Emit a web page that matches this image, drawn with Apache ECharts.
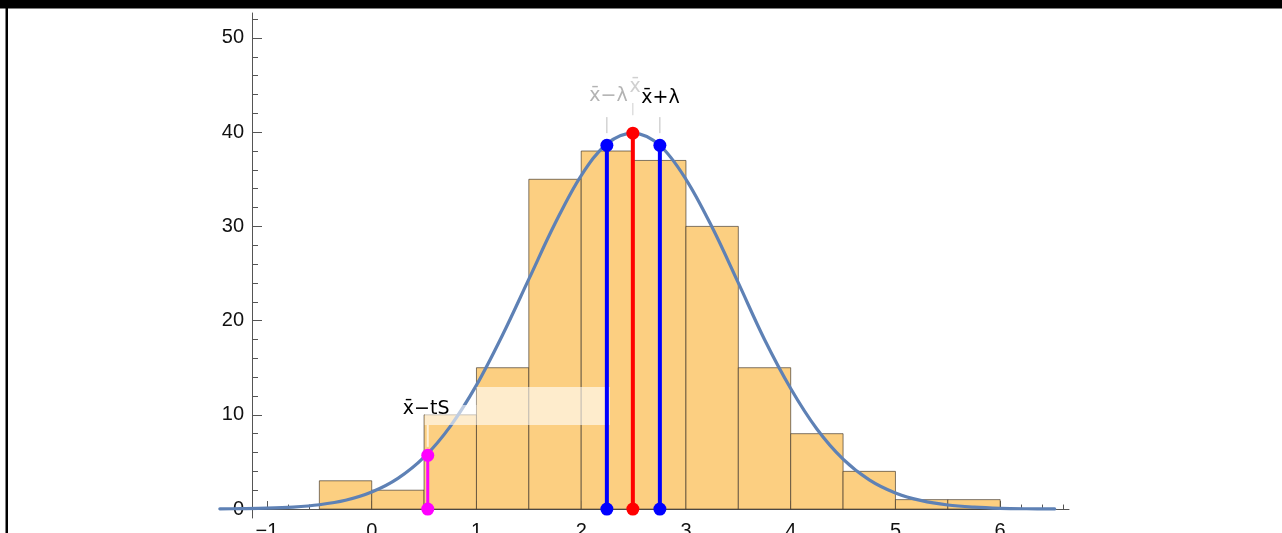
<!DOCTYPE html>
<html>
<head>
<meta charset="utf-8">
<script src="https://cdn.jsdelivr.net/npm/echarts@6/dist/echarts.min.js"></script>
<style>
  html, body { margin: 0; padding: 0; background: #fff; }
  #chart { width: 1282px; height: 533px; }
</style>
</head>
<body>
<div id="chart"></div>
<script>
// Histogram: bin edges (width 0.5) and counts per bin
const binEdges = [-0.5, 0, 0.5, 1, 1.5, 2, 2.5, 3, 3.5, 4, 4.5, 5, 5.5, 6];
const counts   = [3, 2, 10, 15, 35, 38, 37, 30, 15, 8, 4, 1, 1];

// Fitted normal density, scaled to counts
const curveX = [-1.45, -1.25, -1, -0.75, -0.5, -0.25, 0, 0.25, 0.5, 0.75, 1, 1.25, 1.5, 1.75, 2, 2.25,
                2.5, 2.75, 3, 3.25, 3.5, 3.75, 4, 4.25, 4.5, 4.75, 5, 5.25, 5.5, 5.75, 6, 6.25, 6.52];
const curveY = [0.02, 0.04, 0.09, 0.21, 0.46, 0.93, 1.8, 3.25, 5.5, 8.78, 13.15, 18.5, 24.4, 30.3, 35.4, 38.8,
                39.9, 38.6, 35.0, 29.9, 24.0, 18.0, 12.8, 8.5, 5.3, 3.1, 1.71, 0.89, 0.43, 0.2, 0.08, 0.03, 0.01];

// Marked statistics: position on x and height of the density there
const lowerTS  = [0.535, 5.7];   // x̄ − tS
const lowerLam = [2.245, 38.6];  // x̄ − λ
const meanPt   = [2.493, 39.9];  // x̄
const upperLam = [2.751, 38.6];  // x̄ + λ

// Axis tick values
const xTicks = [-1, 0, 1, 2, 3, 4, 5, 6];
const yTicks = [0, 10, 20, 30, 40, 50];

const xMinor = [];
for (let k = -4; k <= 33; k++) { if (k % 5 !== 0) xMinor.push(+(k * 0.2).toFixed(1)); }
const yMinor = [];
for (let k = 1; k <= 26; k++) { if (k % 5 !== 0) yMinor.push(k * 2); }

const axisGray = '#555555';
const barFill = '#fccf81';
const barEdge = 'rgba(60,50,40,0.65)';
const curveColor = '#5e81b5';
const annFont = '19px "DejaVu Sans", sans-serif';

const chart = echarts.init(document.getElementById('chart'), null, { renderer: 'canvas' });

function markerSeries(pt, color, width) {
  return {
    type: 'line',
    data: [[pt[0], 0], [pt[0], pt[1]]],
    symbol: 'circle',
    symbolSize: 13,
    showSymbol: true,
    clip: false,
    lineStyle: { color: color, width: width },
    itemStyle: { color: color },
    z: 5,
    silent: true
  };
}

// Text callouts (data coordinates)
const callouts = [
  { text: 'x\u0304\u2212\u03bb', x: 2.26, y: 43.8, color: '#b3b3b3' },
  { text: 'x\u0304', x: 2.515, y: 44.8, color: '#d0d0d0' },
  { text: 'x\u0304+\u03bb', x: 2.757, y: 43.6, color: '#000000' },
  { text: 'x\u0304\u2212tS', x: 0.52, y: 10.6, color: '#000000' }
];
const leaders = [
  { x: 2.245, y0: 41.6, y1: 39.9, color: '#bdbdbd', w: 1 },
  { x: 2.493, y0: 43.1, y1: 41.8, color: '#cfcfcf', w: 1 },
  { x: 2.751, y0: 41.6, y1: 39.9, color: '#bdbdbd', w: 1 },
  { x: 0.535, y0: 8.92, y1: 6.6, color: 'rgba(255,255,255,0.7)', w: 2 }
];
const labelBoxes = [
  { x0: 0.506, y0: 8.92, x1: 1.0, y1: 11.04 },
  { x0: 1.0, y0: 8.92, x1: 2.273, y1: 12.95 }
];

const option = {
  animation: false,
  backgroundColor: '#ffffff',
  grid: { left: 252, right: 213, top: 13, bottom: 15, containLabel: false, outerBoundsMode: 'none' },
  xAxis: [
    {
      type: 'value', min: -1.143, max: 6.657, position: 'bottom',
      axisLine: { show: true, onZero: true, lineStyle: { color: axisGray, width: 1 } },
      axisTick: { show: true, inside: true, length: 8, customValues: xTicks, lineStyle: { color: axisGray } },
      axisLabel: {
        customValues: xTicks, margin: 3, fontSize: 20, color: '#111',
        fontFamily: '"Liberation Sans", Arial, sans-serif',
        formatter: v => String(v).replace('-', '\u2212')
      },
      splitLine: { show: false }
    },
    {
      type: 'value', min: -1.143, max: 6.657, position: 'bottom',
      axisLine: { show: false, onZero: true },
      axisTick: { show: true, inside: true, length: 4.5, customValues: xMinor, lineStyle: { color: axisGray } },
      axisLabel: { show: false },
      splitLine: { show: false }
    }
  ],
  yAxis: [
    {
      type: 'value', min: -0.95, max: 52.65, position: 'left',
      axisLine: { show: true, onZero: false, lineStyle: { color: axisGray, width: 1 } },
      axisTick: { show: true, inside: true, length: 10, customValues: yTicks, lineStyle: { color: axisGray } },
      axisLabel: {
        customValues: yTicks, margin: 8, fontSize: 20, color: '#111',
        fontFamily: '"Liberation Sans", Arial, sans-serif'
      },
      splitLine: { show: false }
    },
    {
      type: 'value', min: -0.95, max: 52.65, position: 'left',
      axisLine: { show: false, onZero: false },
      axisTick: { show: true, inside: true, length: 6, customValues: yMinor, lineStyle: { color: axisGray } },
      axisLabel: { show: false },
      splitLine: { show: false }
    }
  ],
  graphic: [
    { type: 'rect', shape: { x: 0, y: 0, width: 1282, height: 8.5 }, style: { fill: '#000' }, z: 100 },
    { type: 'rect', shape: { x: 5.5, y: 0, width: 2.5, height: 533 }, style: { fill: '#000' }, z: 100 }
  ],
  series: [
    {
      // histogram bars
      type: 'custom',
      z: 1,
      silent: true,
      data: counts.map((c, i) => [binEdges[i], binEdges[i + 1], c]),
      renderItem: (params, api) => {
        const p0 = api.coord([api.value(0), api.value(2)]);
        const p1 = api.coord([api.value(1), 0]);
        return {
          type: 'rect',
          shape: { x: p0[0], y: p0[1], width: p1[0] - p0[0], height: p1[1] - p0[1] },
          style: { fill: barFill, stroke: barEdge, lineWidth: 1 }
        };
      }
    },
    {
      // density curve, drawn as one smoothed polyline (runs past the left axis)
      type: 'custom',
      z: 2,
      silent: true,
      clip: false,
      data: [[curveX[0], curveY[0]]],
      renderItem: (params, api) => {
        const pts = curveX.map((x, i) => api.coord([x, curveY[i]]));
        return {
          type: 'polyline',
          shape: { points: pts, smooth: 0.35 },
          style: { stroke: curveColor, lineWidth: 3.2, fill: null, lineJoin: 'round', lineCap: 'round' }
        };
      }
    },
    {
      // label backgrounds
      type: 'custom',
      z: 3,
      silent: true,
      data: labelBoxes.map((b, i) => [b.x0, b.y0, i]),
      renderItem: (params, api) => {
        const b = labelBoxes[params.dataIndex];
        const p0 = api.coord([b.x0, b.y1]);
        const p1 = api.coord([b.x1, b.y0]);
        return {
          type: 'rect',
          shape: { x: p0[0], y: p0[1], width: p1[0] - p0[0], height: p1[1] - p0[1] },
          style: { fill: 'rgba(255,255,255,0.6)' }
        };
      }
    },
    {
      // callout leader lines
      type: 'custom',
      z: 3,
      silent: true,
      clip: false,
      data: leaders.map((l, i) => [l.x, l.y0, i]),
      renderItem: (params, api) => {
        const l = leaders[params.dataIndex];
        const a = api.coord([l.x, l.y0]);
        const b = api.coord([l.x, l.y1]);
        return {
          type: 'line',
          shape: { x1: a[0], y1: a[1], x2: b[0], y2: b[1] },
          style: { stroke: l.color, lineWidth: l.w }
        };
      }
    },
    markerSeries(lowerTS, '#ff00ff', 3),
    markerSeries(lowerLam, '#0000ff', 4),
    markerSeries(meanPt, '#ff0000', 4),
    markerSeries(upperLam, '#0000ff', 4),
    {
      // callout texts
      type: 'custom',
      z: 6,
      silent: true,
      clip: false,
      data: callouts.map((c, i) => [c.x, c.y, i]),
      renderItem: (params, api) => {
        const c = callouts[params.dataIndex];
        const p = api.coord([c.x, c.y]);
        return {
          type: 'text',
          x: p[0], y: p[1],
          style: { text: c.text, fill: c.color, font: annFont, align: 'center', verticalAlign: 'middle' }
        };
      }
    }
  ]
};

chart.setOption(option);
</script>
</body>
</html>
